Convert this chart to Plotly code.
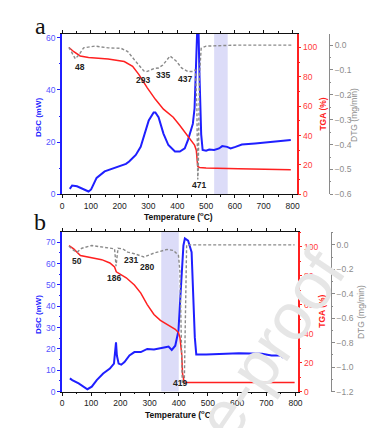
import plotly.graph_objects as go

# ---------------- Panel a data ----------------
a_dsc_T = [27, 35, 52, 80, 92, 101, 120, 148, 194, 222, 233, 256, 273, 284, 301, 318, 324, 335, 352, 369, 392, 409, 426, 437, 449, 454, 460, 466, 472, 477, 483, 488, 500, 511, 528, 545, 556, 573, 585, 602, 624, 670, 726, 794]
a_dsc_v = [2.1, 3.4, 3.1, 1.5, 1.1, 1.9, 6.3, 8.8, 10.7, 11.7, 12.6, 15.1, 18.2, 22.0, 28.3, 31.4, 31.4, 29.6, 23.3, 18.9, 16.4, 16.4, 17.6, 20.8, 25.8, 27.0, 33.0, 46.0, 72.0, 46.0, 23.0, 17.0, 16.7, 17.2, 17.0, 17.6, 18.5, 18.2, 17.6, 18.2, 19.1, 19.5, 20.1, 20.8]

a_tga_T = [24, 41, 63, 92, 160, 216, 245, 267, 296, 324, 352, 386, 409, 437, 460, 466, 471, 477, 500, 613, 726, 794]
a_tga_v = [100, 97.1, 94.2, 93.1, 92.2, 90.4, 87.1, 81.5, 72.5, 64.7, 58.0, 52.5, 46.9, 39.1, 33.5, 30.1, 19.0, 18.3, 17.9, 17.4, 16.7, 16.7]

a_dtg_T = [24, 35, 46, 58, 75, 114, 160, 205, 228, 256, 284, 293, 307, 320, 335, 350, 375, 398, 415, 437, 454, 463, 468, 471, 473, 477, 483, 500, 613, 800]
a_dtg_v = [-0.009, -0.033, -0.055, -0.040, -0.011, -0.004, -0.011, -0.013, -0.026, -0.066, -0.104, -0.107, -0.100, -0.094, -0.092, -0.080, -0.044, -0.066, -0.092, -0.106, -0.106, -0.099, -0.25, -0.54, -0.50, -0.119, -0.013, -0.004, 0.0, 0.0]

a_peak_labels = ["48", "293", "335", "437", "471"]
a_peak_x = [61, 282, 349, 426, 474]
a_peak_y = [48.8, 43.8, 45.9, 44.4, 3.4]

# ---------------- Panel b data ----------------
b_dsc_T = [27, 35, 57, 74, 87, 102, 119, 141, 164, 178, 183, 185, 188, 194, 203, 214, 231, 248, 270, 292, 315, 337, 354, 365, 376, 388, 399, 404, 410, 416, 421, 432, 444, 449, 455, 460, 494, 606, 685, 718, 752, 757]
b_dsc_v = [6.2, 5.4, 3.8, 2.3, 1.1, 2.3, 5.4, 8.5, 10.8, 13.1, 18.5, 23.1, 16.9, 13.1, 12.6, 13.8, 16.9, 18.5, 18.5, 20.0, 19.7, 20.5, 20.8, 21.1, 19.5, 21.5, 28.5, 40.8, 56.0, 68.5, 71.8, 70.8, 65.4, 48.5, 25.4, 17.4, 17.4, 18.0, 17.7, 16.9, 16.9, 15.8]

b_tga_T = [24, 40, 63, 91, 136, 164, 180, 186, 197, 220, 248, 270, 292, 315, 337, 360, 388, 399, 404, 410, 413, 418, 427, 494, 797]
b_tga_v = [100.7, 98.4, 93.9, 92.8, 91.0, 88.7, 86.0, 82.6, 81.4, 78.5, 73.5, 67.9, 60.0, 53.2, 49.1, 46.4, 43.0, 40.7, 37.3, 26.0, 12.4, 6.8, 6.3, 6.3, 6.3]

b_dtg_T = [24, 40, 52, 68, 102, 136, 169, 180, 183, 185, 188, 192, 208, 225, 248, 281, 315, 360, 382, 399, 404, 409, 412, 419, 423, 427, 438, 797]
b_dtg_v = [-0.011, -0.045, -0.059, -0.027, -0.005, -0.019, -0.027, -0.032, -0.11, -0.174, -0.11, -0.027, -0.032, -0.059, -0.072, -0.099, -0.067, -0.037, -0.045, -0.086, -0.22, -1.02, -1.13, -1.13, -0.49, 0.0, 0.0, 0.0]

b_peak_labels = ["50", "186", "231", "280", "419"]
b_peak_x = [52, 178, 236, 290, 404]
b_peak_y = [61.1, 53.4, 61.5, 58.5, 3.8]

BLUE = "#1f1fff"
BLUE_T = "#5555ff"
RED = "#ff2020"
RED_T = "#ff3a3a"
GRAY = "#8a8a8a"
FONT = "Liberation Sans"

fig = go.Figure()

# panel a traces
fig.add_trace(go.Scatter(x=a_dsc_T, y=a_dsc_v, xaxis="x", yaxis="y", mode="lines",
                         line=dict(color=BLUE, width=2)))
fig.add_trace(go.Scatter(x=a_tga_T, y=a_tga_v, xaxis="x", yaxis="y2", mode="lines",
                         line=dict(color=RED, width=1.5)))
fig.add_trace(go.Scatter(x=a_dtg_T, y=a_dtg_v, xaxis="x", yaxis="y3", mode="lines",
                         line=dict(color=GRAY, width=1.4, dash="3px,2px")))
# panel b traces
fig.add_trace(go.Scatter(x=b_dsc_T, y=b_dsc_v, xaxis="x2", yaxis="y4", mode="lines",
                         line=dict(color=BLUE, width=2)))
fig.add_trace(go.Scatter(x=b_tga_T, y=b_tga_v, xaxis="x2", yaxis="y5", mode="lines",
                         line=dict(color=RED, width=1.5)))
fig.add_trace(go.Scatter(x=b_dtg_T, y=b_dtg_v, xaxis="x2", yaxis="y6", mode="lines",
                         line=dict(color=GRAY, width=1.4, dash="3px,2px")))

W, H = 376, 428
ax_dom_a = [53 / W, 292 / W]
ax_dom_b = [53 / W, 293 / W]
y_dom_a = [1 - 188 / H, 1 - 25 / H]
y_dom_b = [1 - 388 / H, 1 - 226 / H]

tickf = dict(family=FONT, size=8.5, color="#222")


def xax(dom, anchor, rng):
    return dict(domain=dom, anchor=anchor, range=rng, showline=True, linecolor="#111",
                linewidth=1, mirror="ticks", ticks="outside", ticklen=3, tickcolor="#111",
                dtick=100, tick0=0, tickfont=tickf, showgrid=False, zeroline=False,
                minor=dict(ticks="outside", ticklen=1.5, dtick=50, tickcolor="#111"))


def yleft(dom, anchor, rng, dt, mdt):
    return dict(domain=dom, anchor=anchor, range=rng, showline=True, linecolor=BLUE,
                linewidth=1.5, ticks="outside", ticklen=3, tickcolor=BLUE, dtick=dt, tick0=0,
                tickfont=dict(family=FONT, size=8.5, color=BLUE_T), showgrid=False,
                zeroline=False, minor=dict(ticks="outside", ticklen=1.5, dtick=mdt, tickcolor=BLUE))


def yred(over, anchor, rng):
    return dict(overlaying=over, anchor=anchor, side="right", range=rng, showline=True,
                linecolor=RED, linewidth=1.5, ticks="outside", ticklen=3, tickcolor=RED,
                dtick=20, tick0=0, tickfont=dict(family=FONT, size=8.5, color=RED_T),
                showgrid=False, zeroline=False,
                minor=dict(ticks="outside", ticklen=1.5, dtick=10, tickcolor=RED))


def ygray(over, pos, rng, dt, mdt, t0):
    return dict(overlaying=over, anchor="free", position=pos, side="right", range=rng,
                showline=True, linecolor=GRAY, linewidth=1, ticks="outside", ticklen=3,
                tickcolor=GRAY, dtick=dt, tick0=t0, tickformat=".1f",
                tickfont=dict(family=FONT, size=8.5, color="#8c8c8c"), showgrid=False,
                zeroline=False, minor=dict(ticks="outside", ticklen=1.5, dtick=mdt, tickcolor=GRAY))


fig.update_layout(
    width=W, height=H, margin=dict(l=0, r=0, t=0, b=0),
    paper_bgcolor="white", plot_bgcolor="white", showlegend=False,
    xaxis=xax(ax_dom_a, "y", [0, 814]),
    yaxis=yleft(y_dom_a, "x", [0, 61.6], 20, 10),
    yaxis2=yred("y", "x", [0, 109.4]),
    yaxis3=ygray("y", 325 / W, [-0.6, 0.046], 0.1, 0.05, 0),
    xaxis2=xax(ax_dom_b, "y4", [0, 807]),
    yaxis4=yleft(y_dom_b, "x2", [0, 74.9], 10, 5),
    yaxis5=yred("y4", "x2", [0, 110.2]),
    yaxis6=ygray("y4", 327 / W, [-1.2, 0.107], 0.2, 0.1, 0),
)

# shaded regions
fig.add_shape(type="rect", xref="x", yref="y domain", x0=528, x1=575, y0=0, y1=1,
              fillcolor="#dcdcf8", line=dict(width=0), layer="below")
fig.add_shape(type="rect", xref="x2", yref="y4 domain", x0=340, x1=400, y0=0, y1=1,
              fillcolor="#dcdcf8", line=dict(width=0), layer="below")

ann = []
lab_font = dict(family=FONT, size=8.5, color="#222")
for t, x, y in zip(a_peak_labels, a_peak_x, a_peak_y):
    ann.append(dict(text="<b>%s</b>" % t, x=x, y=y, xref="x", yref="y", showarrow=False,
                    font=lab_font))
for t, x, y in zip(b_peak_labels, b_peak_x, b_peak_y):
    ann.append(dict(text="<b>%s</b>" % t, x=x, y=y, xref="x2", yref="y4", showarrow=False,
                    font=lab_font))


def pap(text, px, py, font, angle=0):
    return dict(text=text, x=px / W, y=1 - py / H, xref="paper", yref="paper",
                showarrow=False, font=font, textangle=angle, xanchor="center", yanchor="middle")


title_font = dict(family=FONT, size=8.5, color="#111")
ann += [
    pap("a", 31, 17, dict(family="Liberation Serif", size=24, color="#111")),
    pap("b", 31, 216, dict(family="Liberation Serif", size=24, color="#111")),
    pap("<b>Temperature (<sup>o</sup>C)</b>", 172, 210, title_font),
    pap("<b>Temperature (<sup>o</sup>C)</b>", 173, 411, title_font),
    pap("<b>DSC (mW)</b>", 29, 110, dict(family=FONT, size=8, color=BLUE), -90),
    pap("<b>DSC (mW)</b>", 29, 310, dict(family=FONT, size=8, color=BLUE), -90),
    pap("<b>TGA (%)</b>", 318, 107, dict(family=FONT, size=8.5, color=RED), -90),
    pap("<b>TGA (%)</b>", 318, 307, dict(family=FONT, size=8.5, color=RED), -90),
    pap("DTG (mg/min)", 350, 107, dict(family=FONT, size=8.5, color="#8c8c8c"), -90),
    pap("DTG (mg/min)", 357, 307, dict(family=FONT, size=8.5, color="#8c8c8c"), -90),
    # watermark (visible part)
    pap("e-proof", 266, 340, dict(family=FONT, size=66, color="#e6e6e6"), -56),
]
fig.update_layout(annotations=ann)

fig.write_html("out.html")
